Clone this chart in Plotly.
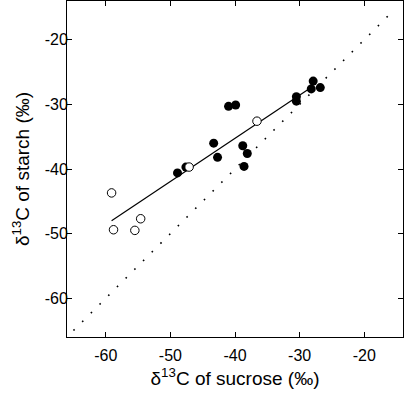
import plotly.graph_objects as go

# Filled circles
filled_x = [-48.9, -47.6, -43.3, -42.7, -41.0, -39.9, -38.8, -38.1, -38.6, -30.5, -30.5, -28.2, -27.9, -26.8]
filled_y = [-40.6, -39.7, -36.0, -38.2, -30.3, -30.1, -36.4, -37.6, -39.6, -28.8, -29.5, -27.6, -26.4, -27.4]

# Open circles
open_x = [-59.1, -58.8, -55.5, -54.6, -47.1, -36.6]
open_y = [-43.7, -49.4, -49.5, -47.7, -39.7, -32.6]

# Regression line endpoints
fit_x = [-59.1, -28.4]
fit_y = [-48.0, -27.5]

# 1:1 line
one_x = [-65.0, -15.6]
one_y = [-65.0, -15.6]

tick_vals = [-60, -50, -40, -30, -20]
tick_text = ["-60", "-50", "-40", "-30", "-20"]

font_fam = "Arial, Liberation Sans, sans-serif"

fig = go.Figure()
fig.add_trace(go.Scatter(x=one_x, y=one_y, mode="lines",
                         line=dict(color="black", width=1.6, dash="1.6px,10.7px"),
                         hoverinfo="skip"))
fig.add_trace(go.Scatter(x=fit_x, y=fit_y, mode="lines",
                         line=dict(color="black", width=1.2)))
fig.add_trace(go.Scatter(x=filled_x, y=filled_y, mode="markers",
                         marker=dict(size=9, color="black", line=dict(width=0))))
fig.add_trace(go.Scatter(x=open_x, y=open_y, mode="markers",
                         marker=dict(size=8.5, color="white", line=dict(color="black", width=1))))

axis_common = dict(
    range=[-66, -14], tickvals=tick_vals, ticktext=tick_text,
    ticks="inside", ticklen=5, tickwidth=1, tickcolor="black",
    showline=True, linecolor="black", linewidth=1, mirror="ticks",
    showgrid=False, zeroline=False, automargin=False,
    tickfont=dict(family=font_fam, size=16, color="black"),
)

fig.update_layout(
    width=404, height=400,
    margin=dict(l=67, r=1, t=1, b=63),
    paper_bgcolor="white", plot_bgcolor="white",
    showlegend=False,
    xaxis=dict(**axis_common, ticklabelstandoff=4,
               title=dict(text="δ<sup>13</sup>C of sucrose (‰)",
                          font=dict(family=font_fam, size=19, color="black"),
                          standoff=8)),
    yaxis=dict(**axis_common, ticklabelstandoff=-5,
               title=dict(text="δ<sup>13</sup>C of starch (‰)",
                          font=dict(family=font_fam, size=19, color="black"),
                          standoff=10)),
)

fig.write_html("out.html", config={"displayModeBar": False},
               post_script="document.body.style.margin='0';")
